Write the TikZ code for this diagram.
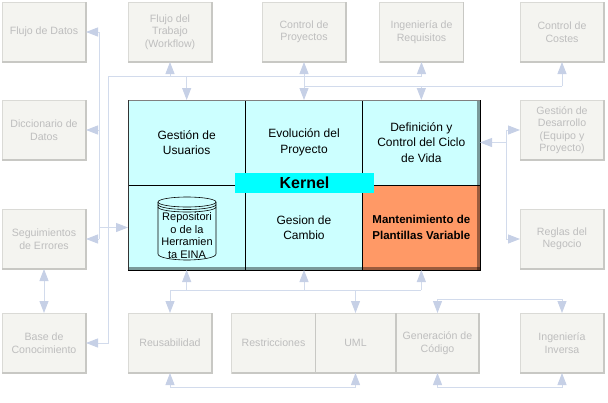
\documentclass[tikz,border=0pt]{standalone}
\usepackage{fontspec}
\setmainfont{Liberation Sans}
\usepackage{tikz}
\usetikzlibrary{arrows.meta}

\definecolor{cellcyan}{HTML}{CCFFFF}
\definecolor{cellorange}{HTML}{FF9966}
\definecolor{kernelcyan}{HTML}{00FFFF}
\definecolor{boxfill}{HTML}{F4F4F0}
\definecolor{boxline}{HTML}{DADAD6}
\definecolor{shadegray}{HTML}{C8C8C4}
\definecolor{boxtext}{HTML}{BEBEBE}
\definecolor{linkline}{HTML}{D2DBEC}
\definecolor{linktip}{HTML}{C6D0E6}

\tikzset{
  grayBox/.style={draw=boxline, fill=boxfill, text=boxtext, minimum width=84pt, minimum height=60pt,
    inner sep=1pt, outer sep=0pt, align=center, font=\fontsize{10.6}{12.5}\selectfont},
  boxShadow/.style={draw=shadegray, line width=1.4pt},
  cell/.style={draw=black, line width=0.6pt, fill=cellcyan, minimum width=117.33pt, minimum height=85pt,
    inner sep=0pt, outer sep=0pt, align=center, font=\fontsize{12}{15.5}\selectfont},
  kernelTag/.style={fill=kernelcyan, minimum width=139pt, minimum height=20.5pt, inner sep=0pt,
    font=\fontsize{16}{16}\selectfont\bfseries},
  cylLine/.style={draw=black, line width=0.6pt},
  cylText/.style={align=center, inner sep=0pt, font=\fontsize{11}{12.6}\selectfont},
  link/.style={draw=linkline, line width=1pt, >={Triangle[length=12pt,width=9pt,color=linktip]}}
}

\begin{document}
\begin{tikzpicture}[x=1pt,y=1pt,yscale=-1,xscale=1]
\useasboundingbox (0,0) rectangle (608,402);

%Shape: Rectangle -- top row
\node[grayBox] (fd) at (44,32) {Flujo de Datos};
\node[grayBox] (ft) at (170,32) {Flujo del\\Trabajo\\(Workflow)};
\node[grayBox] (cp) at (304,32) {Control de\\Proyectos};
\node[grayBox] (ir) at (421.5,32) {Ingeniería de\\Requisitos};
\node[grayBox] (cc) at (562,32) {Control de\\Costes};
%Shape: Rectangle -- sides
\node[grayBox] (dd) at (44,130) {Diccionario de\\Datos};
\node[grayBox] (gd) at (562,130) {Gestión de\\Desarrollo\\(Equipo y\\Proyecto)};
\node[grayBox] (se) at (44,239) {Seguimientos\\de Errores};
\node[grayBox] (rn) at (562,239) {Reglas del\\Negocio};
%Shape: Rectangle -- bottom row
\node[grayBox] (bc) at (44,343) {Base de\\Conocimiento};
\node[grayBox] (re) at (170,343) {Reusabilidad};
\node[grayBox] (rs) at (273.5,343) {Restricciones};
\node[grayBox, minimum width=81pt] (uml) at (355.5,343) {UML};
\node[grayBox, minimum width=83pt] (gc) at (437.5,343) {Generación de\\Código};
\node[grayBox] (ii) at (562,343) {Ingeniería\\Inversa};

\foreach \n in {fd,ft,cp,ir,cc,dd,gd,se,rn,bc,re,rs,uml,gc,ii}
  \draw[boxShadow] (\n.north east) -- (\n.south east) -- (\n.south west);

%Shape: Kernel cells
\node[cell] (gu) at (186.67,142.5) {Gestión de\\Usuarios};
\node[cell] (ep) at (304,142.5) {Evolución del\\Proyecto};
\node[cell] (dc) at (421.33,142.5) {Definición y\\Control del Ciclo\\de Vida};
\node[cell] (rp) at (186.67,227.5) {};
\node[cell] (gcam) at (304,227.5) {Gesion de\\Cambio};
\node[cell, fill=cellorange, font=\fontsize{11.5}{16}\selectfont\bfseries] (mp) at (421.33,227.5) {Mantenimiento de\\Plantillas Variable};

% kernel frame
\fill[black, opacity=0.4] (128,267) rectangle (480,270);
\fill[black, opacity=0.4] (477,100) rectangle (480,270);
\draw[gray, line width=0.6pt] (128,270) -- (128,100) -- (480,100);
\draw[black, line width=1pt] (480,100) -- (480,270) -- (128,270);
\draw[black!80, line width=0.6pt] (128,100) -- (128,270);

% Text Node
\node[kernelTag] (kn) at (304.5,183) {Kernel};

%Shape: Cylinder
\draw[cylLine] (158,202) -- (158,254) arc[start angle=180, end angle=0, x radius=29, y radius=6] -- (216,202);
\draw[cylLine] (187,202) ellipse[x radius=29, y radius=5];
\draw[cylLine] (158,204.5) arc[start angle=180, end angle=0, x radius=29, y radius=5];
\draw[cylLine] (158,207) arc[start angle=180, end angle=0, x radius=29, y radius=5];
% Text Node
\node[cylText] (repo) at (187,235.5) {Repositori\\o de la\\Herramien\\ta EINA};

% top links
\coordinate (topA) at (108,76);
\coordinate (topB) at (304,86);
\draw[link] (topA) -- (ir.south |- topA);
\draw[link] (cp.south |- topA) -- (topB);
\draw[link,->] (topA) |- (bc.east);
\draw[link,->] (ft.south |- topA) -- (ft.south);
\draw[link,->] (cp.south |- topA) -- (cp.south);
\draw[link,->] (ir.south |- topA) -- (ir.south);
\draw[link,->] (gu.north |- topA) -- (gu.north);
\draw[link] (topB) -- (cc.south |- topB);
\draw[link,->] (topB) -- (ep.north);
\draw[link,->] (dc.north |- topB) -- (dc.north);
\draw[link,->] (cc.south |- topB) -- (cc.south);

% left links
\coordinate (leftV) at (99,0);
\draw[link] (leftV |- fd.east) -- (leftV |- se.east);
\draw[link,->] (leftV |- fd.east) -- (fd.east);
\draw[link,->] (leftV |- dd.east) -- (dd.east);
\draw[link,->] (leftV |- se.east) -- (se.east);
\draw[link,->] (leftV |- rp.west) -- (rp.west);
\draw[link,<->] (se.south) -- (bc.north);

% right links
\coordinate (rightV) at (506,0);
\draw[link] (rightV |- gd.west) -- (rightV |- rn.west);
\draw[link,->] (rightV |- gd.west) -- (gd.west);
\draw[link,->] (rightV |- rn.west) -- (rn.west);
\draw[link,->] (rightV |- dc.east) -- (dc.east);

% bottom links
\coordinate (botA) at (0,290);
\draw[link] (re.north |- botA) -- (mp.south |- botA);
\draw[link,->] (re.north |- botA) -- (re.north);
\draw[link,->] (uml.north |- botA) -- (uml.north);
\draw[link,->] (rp.south |- botA) -- (rp.south);
\draw[link,->] (gcam.south |- botA) -- (gcam.south);
\draw[link,->] (mp.south |- botA) -- (mp.south);
\draw[link,<->] (re.south) -- ++(0,14) -| (uml.south);
\draw[link,<->] (gc.north) -- ++(0,-14) -| (ii.north);
\draw[link,<->] (gc.south) -- ++(0,14) -| (ii.south);

\end{tikzpicture}
\end{document}
